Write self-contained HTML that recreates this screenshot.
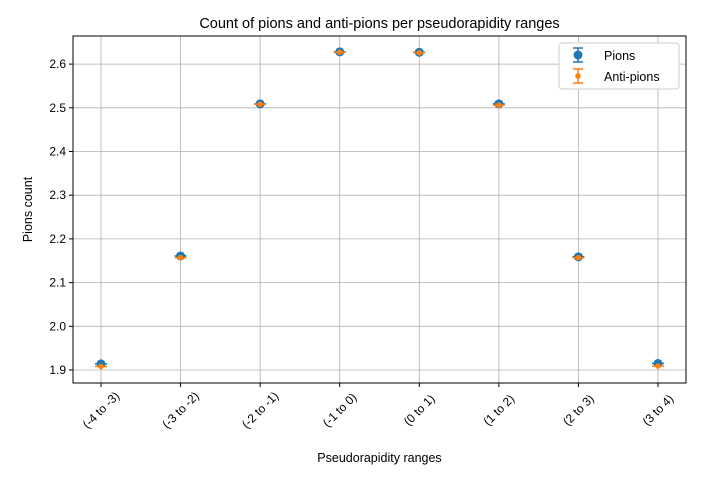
<!DOCTYPE html>
<html><head><meta charset="utf-8"><style>body{margin:0;background:#fff}svg{display:block;font-family:"Liberation Sans","DejaVu Sans",sans-serif}</style></head>
<body>
<svg id="c" width="703" height="480"></svg>
<script>
const categories=["(-4 to -3)","(-3 to -2)","(-2 to -1)","(-1 to 0)","(0 to 1)","(1 to 2)","(2 to 3)","(3 to 4)"];
const pions=[1.914,2.161,2.509,2.628,2.627,2.509,2.159,1.915];
const antiPions=[1.908,2.157,2.508,2.627,2.626,2.506,2.157,1.909];
const yTicks=[1.9,2.0,2.1,2.2,2.3,2.4,2.5,2.6];
const NS="http://www.w3.org/2000/svg";
const svg=document.getElementById('c');
const L=73,R=686,T=36,B=383;
function xs(i){return 101+i*79.57;}
function ys(v){return 370-(v-1.9)*437;}
function el(t,a,p){const e=document.createElementNS(NS,t);for(const k in a)e.setAttribute(k,a[k]);(p||svg).appendChild(e);return e;}
function txt(s,a){const e=el('text',a);e.textContent=s;return e;}
categories.forEach((c,i)=>{
 const g=el('line',{x1:xs(i),x2:xs(i),y1:T,y2:B,stroke:'#b0b0b0','stroke-width':0.8});
 
 
 const tk=el('line',{x1:xs(i),x2:xs(i),y1:B,y2:B+4,stroke:'#000'});
 
 
 const x=xs(i),y=B+27;
 const t=txt(c,{x:x,y:y,'font-size':12,'text-anchor':'middle','dominant-baseline':'central',transform:`rotate(-45 ${x} ${y})`,fill:'#000'});
 
 
});
yTicks.forEach(v=>{
 const g=el('line',{x1:L,x2:R,y1:ys(v),y2:ys(v),stroke:'#b0b0b0','stroke-width':0.8});
 
 
 const tk=el('line',{x1:L-4,x2:L,y1:ys(v),y2:ys(v),stroke:'#000'});
 
 
 const t=txt(v.toFixed(1),{x:L-7,y:ys(v)+4,'font-size':12,'text-anchor':'end'});
 
 
});
const fr=el('rect',{x:L,y:T,width:R-L,height:B-T,fill:'none',stroke:'#000','stroke-width':1});


pions.forEach((v,i)=>{
 const c=el('line',{x1:xs(i)-6,x2:xs(i)+6,y1:ys(v),y2:ys(v),stroke:'#1f77b4','stroke-width':1.5});
 
 
 const p=el('circle',{cx:xs(i),cy:ys(v),r:4.5,fill:'#1f77b4'});
 
 
});
antiPions.forEach((v,i)=>{
 const c=el('line',{x1:xs(i)-6,x2:xs(i)+6,y1:ys(v),y2:ys(v),stroke:'#ff7f0e','stroke-width':1.5});
 
 
 const p=el('circle',{cx:xs(i),cy:ys(v),r:2.8,fill:'#ff7f0e'});
 
 
});
const ti=txt('Count of pions and anti-pions per pseudorapidity ranges',{x:(L+R)/2,y:28,'font-size':14.5,'text-anchor':'middle'});


const xt=txt('Pseudorapidity ranges',{x:(L+R)/2,y:462,'font-size':12.5,'text-anchor':'middle'});


const yt=txt('Pions count',{x:32,y:(T+B)/2,'font-size':12.5,'text-anchor':'middle',transform:`rotate(-90 32 ${(T+B)/2})`});


const lg=el('g',{});


el('rect',{x:559,y:43,width:120,height:46,rx:3,fill:'#fff',stroke:'#ccc'},lg);
el('line',{x1:578,x2:578,y1:48,y2:62,stroke:'#1f77b4','stroke-width':1.5},lg);
el('line',{x1:573,x2:583,y1:48,y2:48,stroke:'#1f77b4','stroke-width':1.5},lg);
el('line',{x1:573,x2:583,y1:62,y2:62,stroke:'#1f77b4','stroke-width':1.5},lg);
el('circle',{cx:578,cy:55,r:4.5,fill:'#1f77b4'},lg);
el('line',{x1:578,x2:578,y1:69,y2:83,stroke:'#ff7f0e','stroke-width':1.5},lg);
el('line',{x1:573,x2:583,y1:69,y2:69,stroke:'#ff7f0e','stroke-width':1.5},lg);
el('line',{x1:573,x2:583,y1:83,y2:83,stroke:'#ff7f0e','stroke-width':1.5},lg);
el('circle',{cx:578,cy:76,r:2.8,fill:'#ff7f0e'},lg);
const l1=el('text',{x:604,y:60,'font-size':12.5},lg);l1.textContent='Pions';


const l2=el('text',{x:604,y:81,'font-size':12.5},lg);l2.textContent='Anti-pions';


</script>
</body></html>
